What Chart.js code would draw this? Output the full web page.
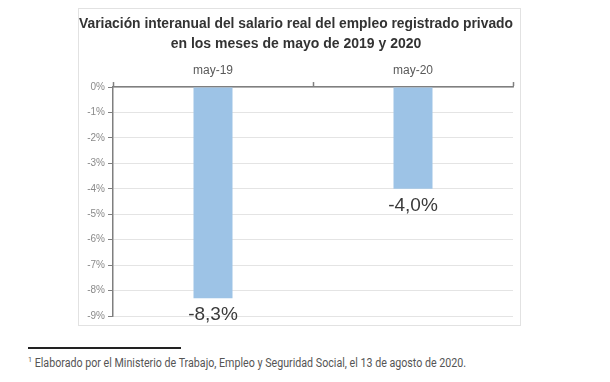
<!DOCTYPE html>
<html>
<head>
<meta charset="UTF-8">
<title>Salario real</title>
<script src="https://cdn.jsdelivr.net/npm/chart.js"></script>
<style>
    body { margin: 0; background: #fff; width: 610px; height: 382px; position: relative; overflow: hidden; }
    .frame {
        position: absolute; left: 78px; top: 8px;
        width: 441px; height: 316px;
        border: 1px solid #e2e2e2;
    }
    .rule { position: absolute; left: 28px; top: 347px; width: 153px; height: 2px; background: #222; }
    .note {
        position: absolute; left: 28px; top: 355px;
        font-family: Roboto, sans-serif; font-size: 12px; color: #555;
        white-space: nowrap;
        transform: scaleX(0.89); transform-origin: left top;
    }
    .note sup { font-size: 8px; }
</style>
</head>
<body>
<div class="frame"><canvas id="c" width="441" height="316"></canvas></div>
<div class="rule"></div>
<div class="note"><sup>1</sup> Elaborado por el Ministerio de Trabajo, Empleo y Seguridad Social, el 13 de agosto de 2020.</div>
<script>
// datos
const categories = ['may-19', 'may-20'];
const values = [-8.3, -4.0];
const valueLabels = ['-8,3%', '-4,0%'];
const titleLines = ['Variación interanual del salario real del empleo registrado privado', 'en los meses de mayo de 2019 y 2020'];

const barLabels = {
    id: 'barLabels',
    afterDatasetsDraw(chart) {
        const ctx = chart.ctx;
        ctx.save();
        ctx.font = '19px "Liberation Sans", Arial, sans-serif';
        ctx.fillStyle = '#3a3a3a';
        ctx.textAlign = 'center';
        ctx.textBaseline = 'middle';
        chart.getDatasetMeta(0).data.forEach((bar, i) => {
            ctx.fillText(valueLabels[i], bar.x, bar.y + 17);
        });
        ctx.restore();
    }
};

new Chart(document.getElementById('c'), {
    type: 'bar',
    data: {
        labels: categories,
        datasets: [{
            data: values,
            backgroundColor: '#9dc3e6',
            barPercentage: 0.195,
            categoryPercentage: 1
        }]
    },
    options: {
        responsive: false,
        animation: false,
        layout: { padding: { left: 0, right: 7, top: 0, bottom: 9 } },
        plugins: {
            legend: { display: false },
            tooltip: { enabled: false },
            title: {
                display: true,
                text: titleLines,
                color: '#333',
                font: { family: '"Liberation Sans", Arial', size: 14, weight: 'bold', lineHeight: 1.43 },
                padding: { top: 5, bottom: 0 }
            }
        },
        scales: {
            x: {
                position: 'top',
                offset: true,
                afterFit(s) { s.height = 33; },
                grid: { offset: true, drawOnChartArea: false, tickLength: 5, color: '#7f7f7f', tickWidth: 1.5 },
                border: { color: '#7f7f7f', width: 1.5 },
                ticks: { color: '#595959', font: { family: '"Liberation Sans", Arial', size: 12 }, padding: 4 }
            },
            y: {
                min: -9,
                max: 0,
                afterFit(s) { s.width = 34; },
                grid: { color: '#e4e4e4', tickLength: 5, tickColor: '#7f7f7f', tickWidth: 1 },
                border: { color: '#7f7f7f', width: 1.5 },
                ticks: {
                    stepSize: 1,
                    color: '#8a8a8a',
                    padding: 3,
                    font: { family: '"Liberation Sans", Arial', size: 10 },
                    callback: v => v + '%'
                }
            }
        }
    },
    plugins: [barLabels]
});
</script>
</body>
</html>
